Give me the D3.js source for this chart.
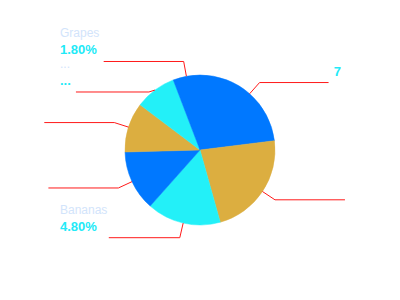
<!DOCTYPE html>
<html>
<head>
<meta charset="utf-8">
<script src="https://cdn.jsdelivr.net/npm/d3@7/dist/d3.min.js"></script>
<style>
  html, body { margin: 0; padding: 0; background: #ffffff; }
  svg { display: block; }
</style>
</head>
<body>
<svg id="chart" width="400" height="300"></svg>
<script>
// ---- data ----
const categories = ["", "", "Bananas", "", "", "...", "Grapes"];
const values = [23.0, 22.6, 15.9, 13.0, 10.7, 8.9, 5.8];
const valueLabels = ["7", "", "4.80%", "", "", "...", "1.80%"];
const palette = ["#0078ff", "#dcae40", "#23f0f8"];

// ---- layout config ----
const W = 400, H = 300;
const cx = 200, cy = 150, R = 75;
const len1 = 15;
const len2 = [69, 70, 71, 70, 70, 73, 80];
const leftEdge = 60, rightEdge = 341;
const minGap = 30.5;
const fontFamily = "Liberation Sans, Arial, sans-serif";

const svg = d3.select("#chart");
const g = svg.append("g").attr("transform", `translate(${cx},${cy})`);

const pie = d3.pie().sort(null).value(d => d).startAngle(0).endAngle(2 * Math.PI);
const arcs = pie(values);
const arc = d3.arc().innerRadius(0).outerRadius(R);

g.selectAll("path.slice")
  .data(arcs)
  .enter().append("path")
  .attr("class", "slice")
  .attr("d", arc)
  .attr("fill", (d, i) => palette[i % palette.length])
  .attr("stroke", (d, i) => palette[i % palette.length])
  .attr("stroke-width", 0.5);

// label line geometry
const items = arcs.map((d, i) => {
  const a = (d.startAngle + d.endAngle) / 2;
  const sx = Math.sin(a), sy = -Math.cos(a);
  const start = [cx + R * sx, cy + R * sy];
  const elbow = [cx + (R + len1) * sx, cy + (R + len1) * sy];
  return { i, a, dir: sx >= 0 ? 1 : -1, start, elbow, y: elbow[1], shifted: false };
});

// resolve overlaps per side
[1, -1].forEach(dir => {
  const side = items.filter(it => it.dir === dir).sort((p, q) => p.y - q.y);
  for (let k = 1; k < side.length; k++) {
    if (side[k].y < side[k - 1].y + minGap) {
      side[k].y = side[k - 1].y + minGap;
      side[k].shifted = true;
    }
  }
});

items.forEach(it => {
  let ex = it.elbow[0];
  if (it.shifted) ex = it.start[0] + it.dir * 6;
  it.p1 = [ex, it.y];
  it.p2 = [ex + it.dir * len2[it.i], it.y];
});

const line = d3.line();
svg.selectAll("path.leader")
  .data(items)
  .enter().append("path")
  .attr("class", "leader")
  .attr("d", it => line([it.start, it.p1, it.p2]))
  .attr("fill", "none")
  .attr("stroke", "#ff1a1a")
  .attr("stroke-width", 1);

// labels
items.forEach(it => {
  const x = it.dir < 0 ? leftEdge : rightEdge;
  const anchor = it.dir < 0 ? "start" : "end";
  if (categories[it.i]) {
    svg.append("text")
      .attr("x", x).attr("y", it.y - 24)
      .attr("text-anchor", anchor)
      .attr("font-family", fontFamily)
      .attr("font-size", 12)
      .attr("fill", "#d2e4fb")
      .text(categories[it.i]);
  }
  if (valueLabels[it.i]) {
    svg.append("text")
      .attr("x", x).attr("y", it.y - 7)
      .attr("text-anchor", anchor)
      .attr("font-family", fontFamily)
      .attr("font-size", 13)
      .attr("font-weight", "bold")
      .attr("fill", "#22eaf7")
      .text(valueLabels[it.i]);
  }
});
</script>
</body>
</html>
